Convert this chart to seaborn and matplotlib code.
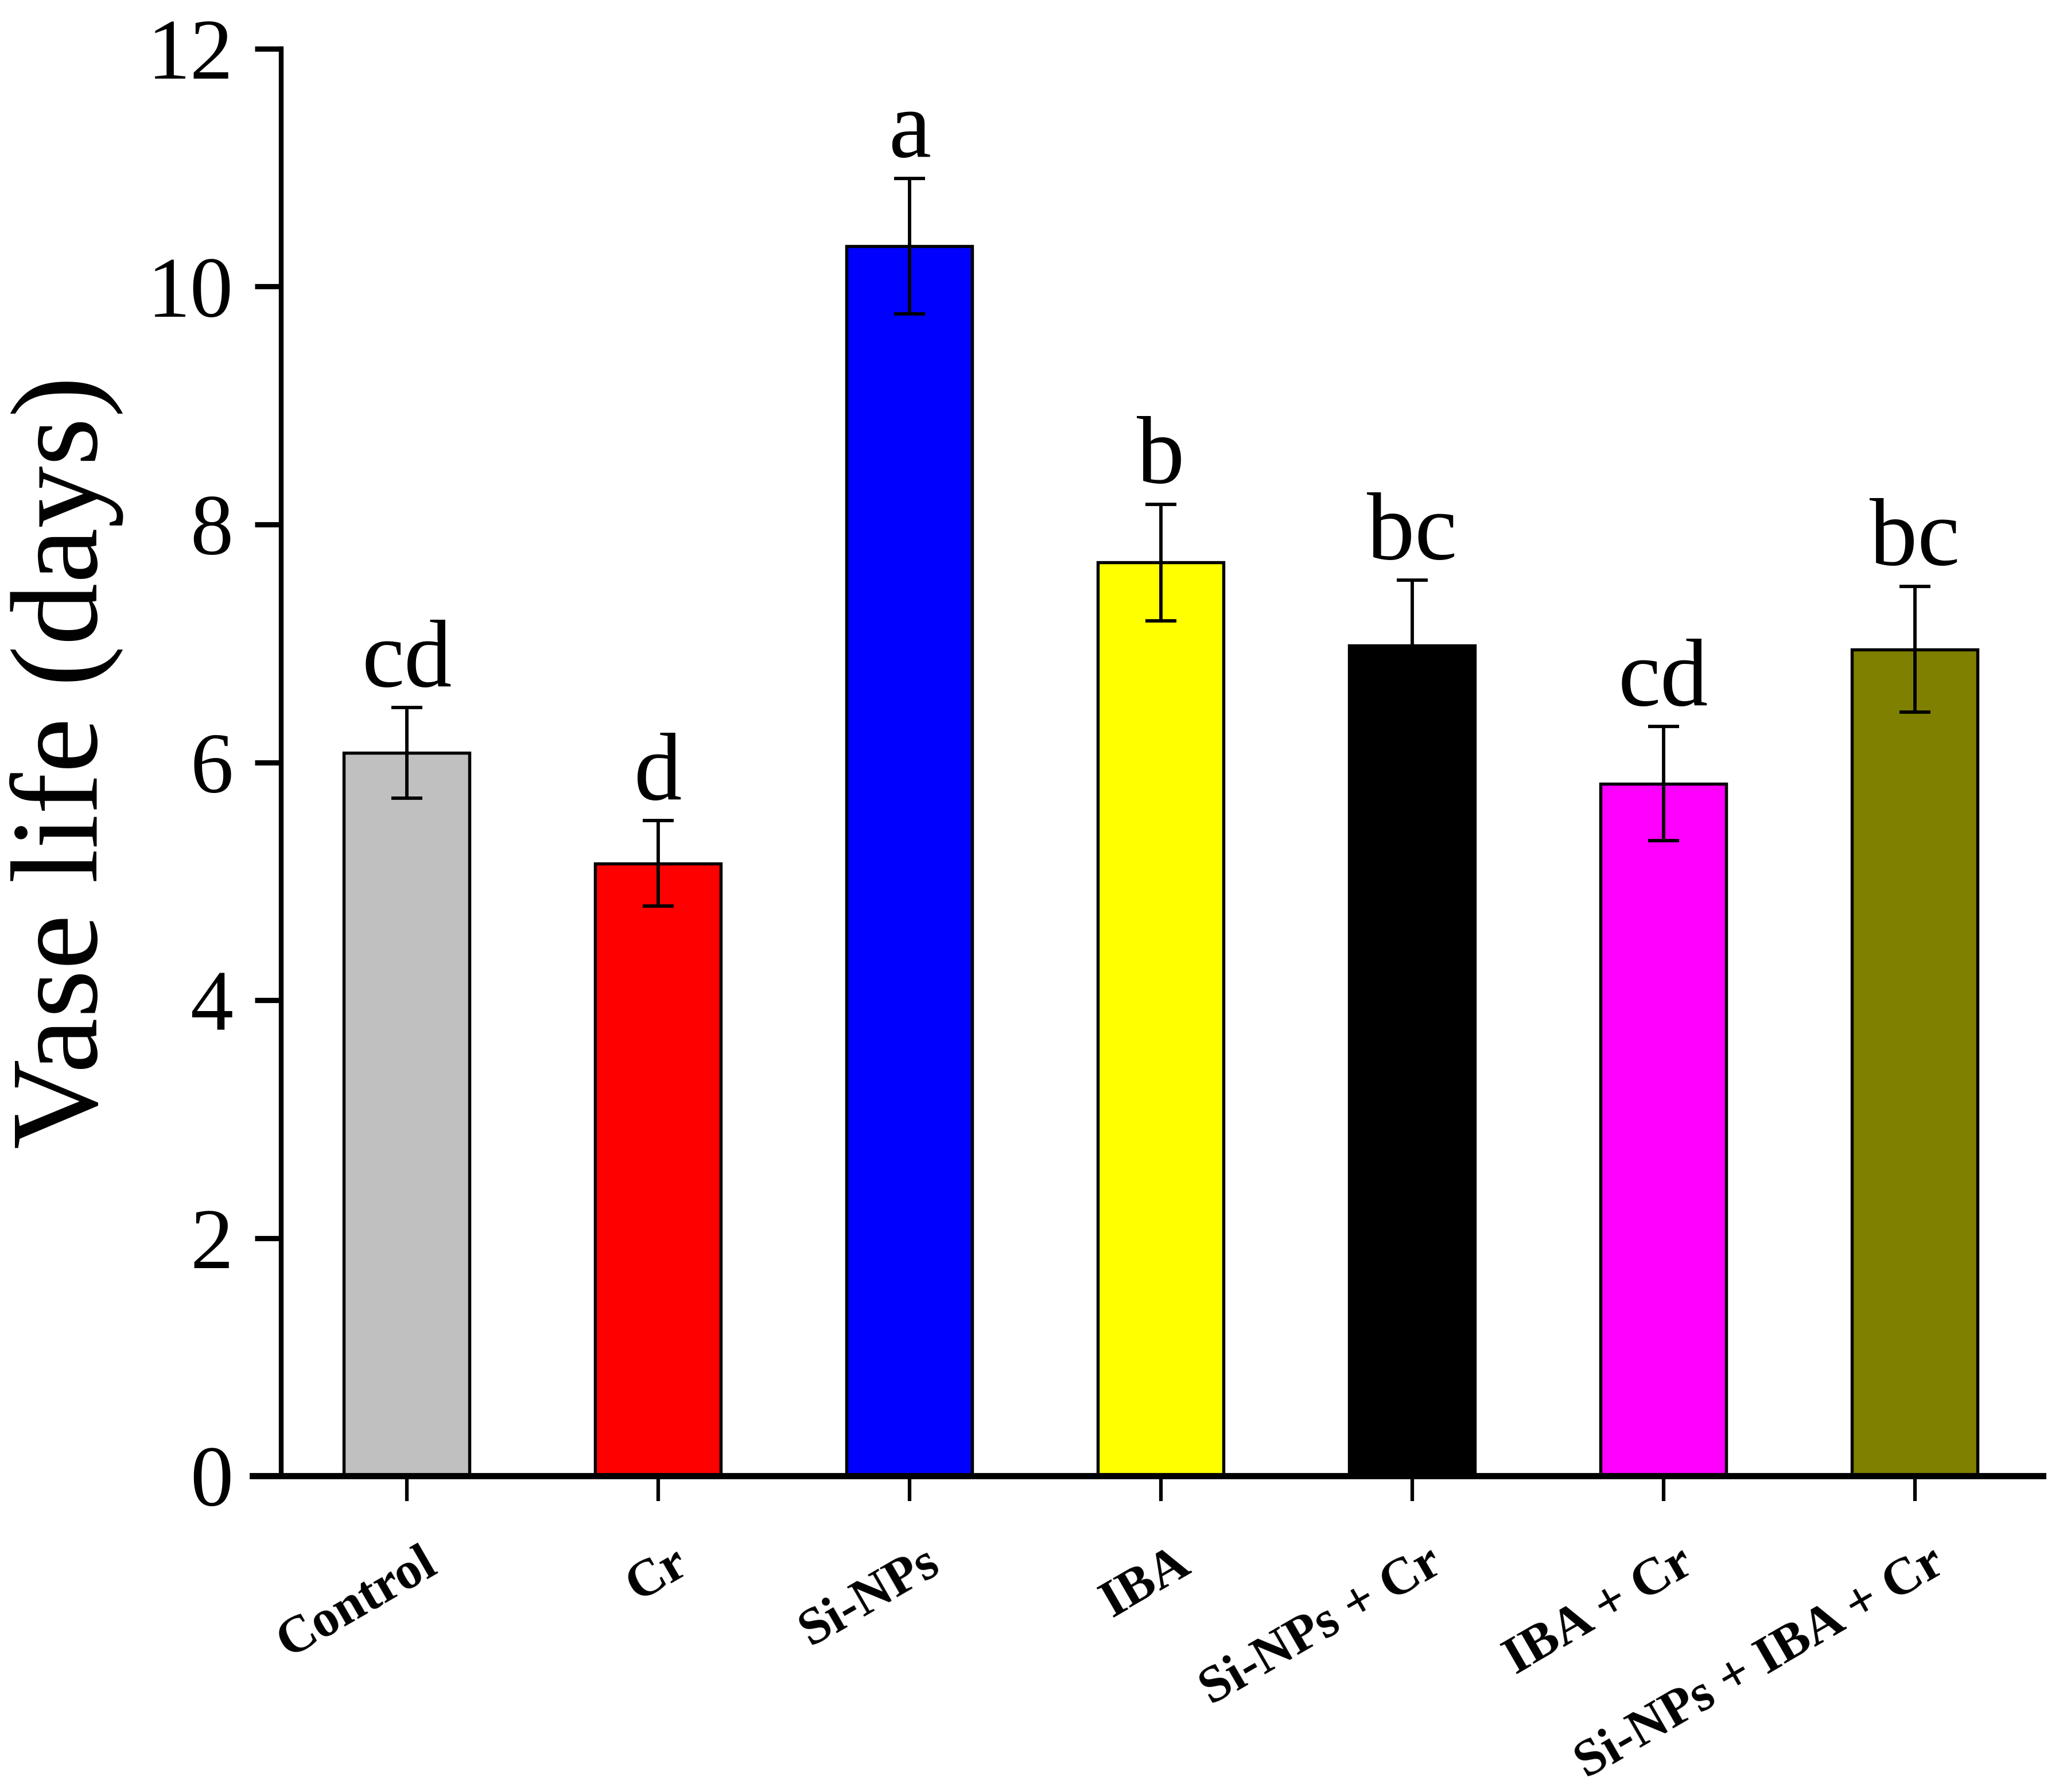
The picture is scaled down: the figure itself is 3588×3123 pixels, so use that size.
import numpy as np
import pandas as pd
import matplotlib
matplotlib.use("Agg")
import matplotlib.pyplot as plt
import matplotlib.transforms as mtransforms
from matplotlib import font_manager
import seaborn as sns

# datos
treatments = ["Control", "Cr", "Si-NPs", "IBA", "Si-NPs + Cr", "IBA + Cr",
              "Si-NPs + IBA + Cr"]
vase_life = [6.08, 5.15, 10.34, 7.68, 6.98, 5.82, 6.95]
sd = [0.38, 0.36, 0.57, 0.49, 0.55, 0.48, 0.53]
letters = ["cd", "d", "a", "b", "bc", "cd", "bc"]
bar_colors = ["#C0C0C0", "#FF0000", "#0000FF", "#FFFF00", "#000000",
              "#FF00FF", "#808000"]
yticks = [0, 2, 4, 6, 8, 10, 12]

df = pd.DataFrame({"treatment": treatments, "vase_life": vase_life, "sd": sd})

sns.set_style("ticks")

# buscamos una fuente tipo Times instalada
serif = "DejaVu Serif"
names = sorted({f.name for f in font_manager.fontManager.ttflist})
for cand in ["Liberation Serif", "Times New Roman", "Nimbus Roman",
             "TeX Gyre Termes", "FreeSerif"]:
    if cand in names:
        serif = cand
        break
plt.rcParams["font.family"] = [serif, "DejaVu Serif"]
plt.rcParams["text.color"] = "black"
plt.rcParams["axes.labelcolor"] = "black"
plt.rcParams["xtick.color"] = "black"
plt.rcParams["ytick.color"] = "black"
plt.rcParams["axes.edgecolor"] = "black"

fig = plt.figure(figsize=(3588 / 300, 3123 / 300), dpi=300)
ax = fig.add_axes([0.1226, 0.1764, 0.9922 - 0.1226, 0.9728 - 0.1764])

sns.barplot(data=df, x="treatment", y="vase_life", hue="treatment",
            palette=bar_colors, saturation=1, legend=False, width=0.5,
            errorbar=None, edgecolor="black", linewidth=1.3, ax=ax)

ax.errorbar(np.arange(len(df)), df["vase_life"], yerr=df["sd"], fmt="none",
            ecolor="black", elinewidth=1.4, capsize=6.5, capthick=1.4, zorder=5)

# letras de significancia
for i, (v, e, l) in enumerate(zip(vase_life, sd, letters)):
    ax.annotate(l, xy=(i, v + e), xytext=(0, 9), textcoords="offset points",
                ha="center", va="baseline", fontsize=40, color="black")

ax.set_xlim(-0.614, 6.51)
ax.set_ylim(0, 12)
ax.set_yticks(yticks)
ax.spines["top"].set_visible(False)
ax.spines["right"].set_visible(False)
ax.spines["left"].set_position(("data", -0.5))
ax.spines["left"].set_linewidth(2.0)
ax.spines["bottom"].set_linewidth(2.6)

ax.tick_params(axis="y", direction="out", length=11, width=2.2, pad=9,
               labelsize=36)
ax.tick_params(axis="x", direction="out", length=10.5, width=1.5, pad=16,
               labelsize=22)

ax.set_xlabel("")
ax.set_ylabel("Vase life (days)", fontsize=52, labelpad=10)

offset = mtransforms.ScaledTranslation(6 / 72, 0, fig.dpi_scale_trans)
for lab in ax.get_xticklabels():
    lab.set_rotation(30)
    lab.set_ha("right")
    lab.set_va("top")
    lab.set_rotation_mode("anchor")
    lab.set_fontweight("bold")
    lab.set_transform(lab.get_transform() + offset)

fig.savefig("out.png", dpi=300, facecolor="white")
plt.close(fig)
